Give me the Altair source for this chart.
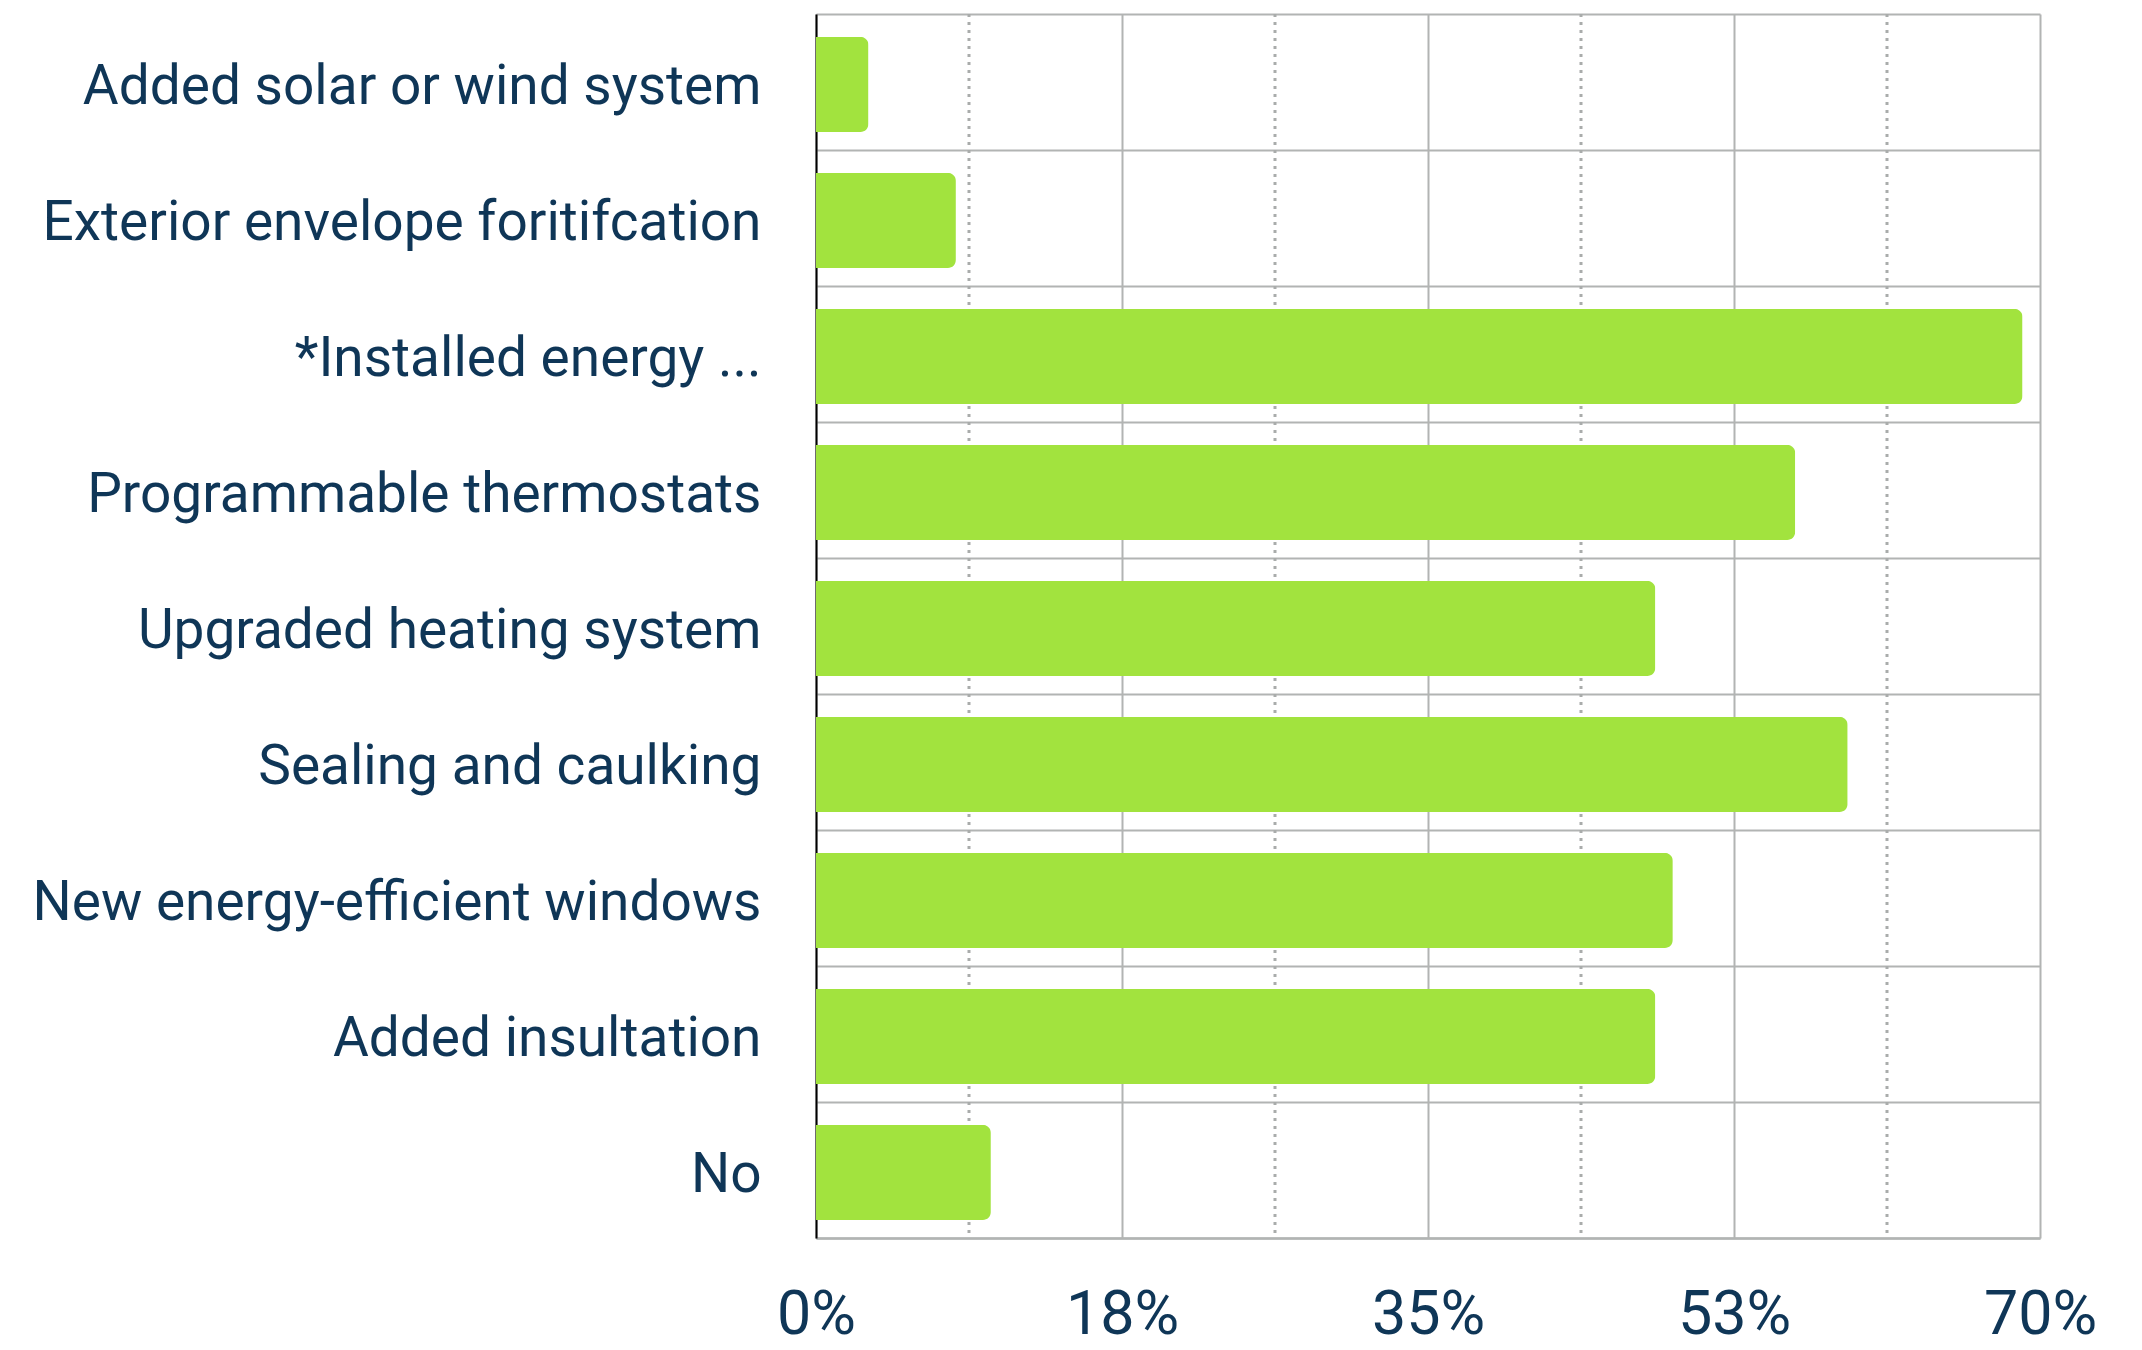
import altair as alt
import pandas as pd

categories = [
    "Added solar or wind system",
    "Exterior envelope foritifcation",
    "*Installed energy ...",
    "Programmable thermostats",
    "Upgraded heating system",
    "Sealing and caulking",
    "New energy-efficient windows",
    "Added insultation",
    "No",
]
values = [3, 8, 69, 56, 48, 59, 49, 48, 10]
major_ticks = [0, 17.5, 35, 52.5, 70]
minor_ticks = [8.75, 26.25, 43.75, 61.25]

df = pd.DataFrame({"category": categories, "value": values})
minor_df = pd.DataFrame({"x": minor_ticks})

FONT = "Roboto"
TEXT = "#0F3657"
GRID = "#B2B4B3"
GREEN = "#A2E33E"

xscale = alt.Scale(domain=[0, 70], nice=False, zero=True)
yscale = alt.Scale(paddingInner=0, paddingOuter=0)

xaxis = alt.Axis(
    values=major_ticks,
    labelExpr="round(datum.value) + '%'",
    title=None,
    grid=True,
    gridColor=GRID,
    gridWidth=2,
    ticks=False,
    domain=True,
    domainColor=GRID,
    domainWidth=2.5,
    labelFontSize=61,
    labelColor=TEXT,
    labelFont=FONT,
    labelPadding=47,
    labelBaseline="top",
    labelFlush=False,
)

minor = alt.Chart(minor_df).mark_rule(
    color="#A9ACAB", strokeWidth=3, strokeDash=[3, 5]
).encode(x=alt.X("x:Q", scale=xscale, axis=xaxis))

bars = alt.Chart(df).mark_bar(
    color=GREEN, cornerRadiusEnd=8, height=alt.RelativeBandSize(0.7), yOffset=2.5
).encode(
    x=alt.X("value:Q", scale=xscale, axis=xaxis),
    y=alt.Y(
        "category:N",
        sort=categories,
        scale=yscale,
        axis=alt.Axis(
            title=None,
            tickBand="extent",
            grid=True,
            gridColor=GRID,
            gridWidth=2,
            ticks=False,
            domain=True,
            domainColor="black",
            domainWidth=2,
            labelFontSize=55,
            labelColor=TEXT,
            labelFont=FONT,
            labelPadding=55,
            labelOffset=4,
            labelLimit=0,
        ),
    ),
)

chart = (
    alt.layer(minor, bars)
    .properties(
        width=1224,
        height=1224,
        autosize=alt.AutoSizeParams(type="none"),
        padding={"left": 808, "top": 6, "right": 94, "bottom": 112},
        background="white",
    )
    .configure_view(stroke=None)
)

chart.save("out.html", embed_options={"renderer": "svg", "actions": False})
